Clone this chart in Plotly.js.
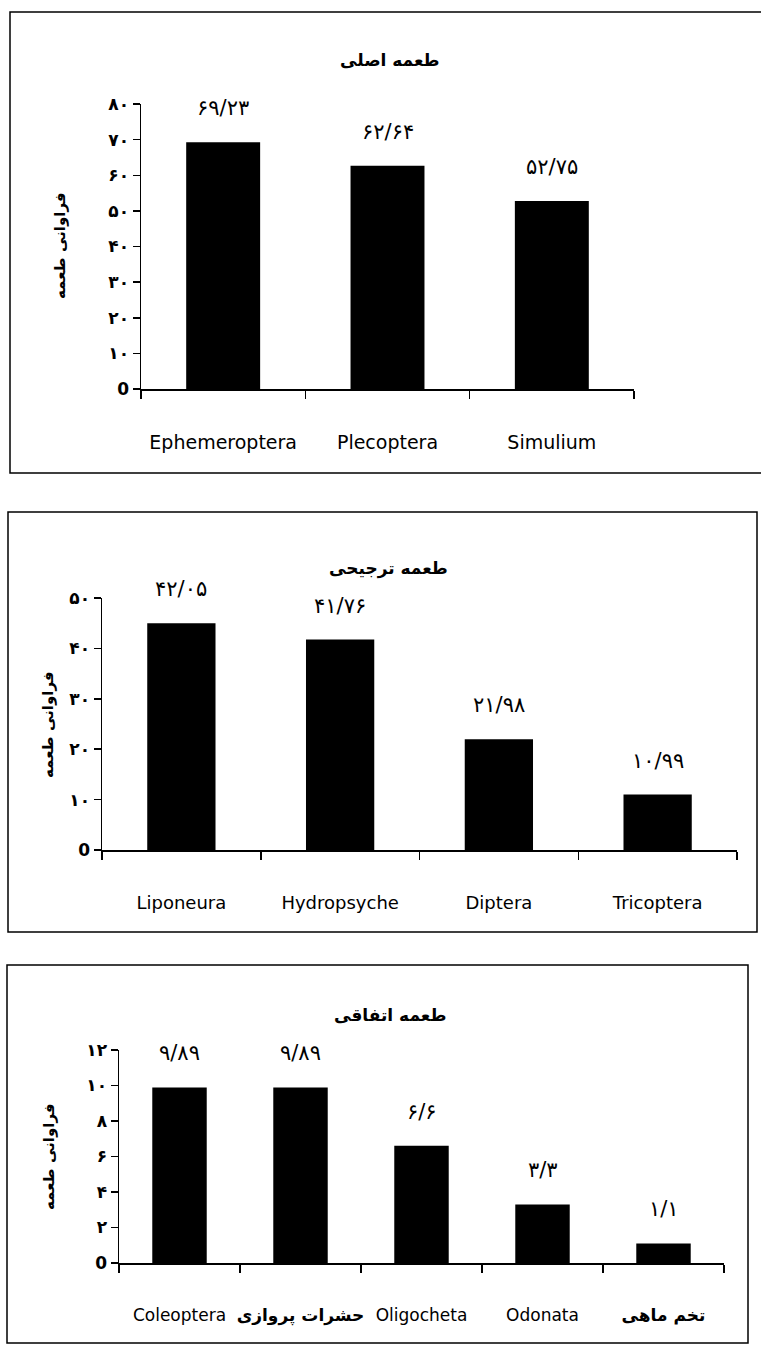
<!DOCTYPE html>
<html>
<head>
<meta charset="utf-8">
<script src="https://cdn.plot.ly/plotly-3.0.1.min.js"></script>
<style>html,body{margin:0;padding:0;background:#fff;}#chart{width:761px;height:1359px;}</style>
</head>
<body>
<div id="chart"></div>
<script>
// ---- Data ----
const chartTitles = ['طعمه اصلی', 'طعمه ترجیحی', 'طعمه اتفاقی'];
const yAxisTitle = 'فراوانی طعمه';

const cats1 = ['Ephemeroptera', 'Plecoptera', 'Simulium'];
const vals1 = [69.23, 62.64, 52.75];
const labels1 = ['۶۹/۲۳', '۶۲/۶۴', '۵۲/۷۵'];
const yTicks1 = [0, 10, 20, 30, 40, 50, 60, 70, 80];
const yTickText1 = ['0', '۱۰', '۲۰', '۳۰', '۴۰', '۵۰', '۶۰', '۷۰', '۸۰'];

const cats2 = ['Liponeura', 'Hydropsyche', 'Diptera', 'Tricoptera'];
const vals2 = [45.0, 41.76, 21.98, 10.99];
const labels2 = ['۴۲/۰۵', '۴۱/۷۶', '۲۱/۹۸', '۱۰/۹۹'];
const yTicks2 = [0, 10, 20, 30, 40, 50];
const yTickText2 = ['0', '۱۰', '۲۰', '۳۰', '۴۰', '۵۰'];

const cats3 = ['Coleoptera', 'حشرات پروازی', 'Oligocheta', 'Odonata', 'تخم ماهی'];
const vals3 = [9.89, 9.89, 6.6, 3.3, 1.1];
const labels3 = ['۹/۸۹', '۹/۸۹', '۶/۶', '۳/۳', '۱/۱'];
const yTicks3 = [0, 2, 4, 6, 8, 10, 12];
const yTickText3 = ['0', '۲', '۴', '۶', '۸', '۱۰', '۱۲'];

// ---- Build ----
const FONT = 'DejaVu Sans, Tahoma, sans-serif';
const W = 761, H = 1359;
const px = v => v / W;
const py = v => 1 - v / H;

const isPersian = s => /[\u0600-\u06FF]/.test(s);
const tickTextFor = cats => cats.map(c => isPersian(c) ? '<b>' + c + '</b>' : c);

const charts = [
  {cats: cats1, vals: vals1, labels: labels1, yt: yTicks1, ytt: yTickText1, yr: [0, 80],
   xd: [px(141), px(634)], yd: [py(389), py(104)], xfs: 19, width: 0.45,
   box: [px(10), py(473), 1.05, py(12)], title: [px(390), py(60)], ytitle: [px(60), py(246)]},
  {cats: cats2, vals: vals2, labels: labels2, yt: yTicks2, ytt: yTickText2, yr: [0, 50],
   xd: [px(102), px(737)], yd: [py(850), py(598)], xfs: 18, width: 0.43,
   box: [px(8), py(932), px(757), py(512)], title: [px(388), py(568)], ytitle: [px(48), py(724)]},
  {cats: cats3, vals: vals3, labels: labels3, yt: yTicks3, ytt: yTickText3, yr: [0, 12],
   xd: [px(119), px(724)], yd: [py(1263), py(1050)], xfs: 17, width: 0.45,
   box: [px(7), py(1343), px(748), py(965)], title: [px(390), py(1015)], ytitle: [px(49), py(1157)]}
];

const data = [];
const layout = {
  width: W, height: H,
  margin: {l: 0, r: 0, t: 0, b: 0},
  paper_bgcolor: '#fff', plot_bgcolor: 'rgba(0,0,0,0)',
  showlegend: false,
  font: {family: FONT, color: '#000'},
  shapes: [], annotations: []
};

charts.forEach((c, i) => {
  const n = i === 0 ? '' : String(i + 1);
  data.push({
    type: 'bar', x: c.cats, y: c.vals,
    xaxis: 'x' + n, yaxis: 'y' + n,
    marker: {color: '#000', line: {width: 0}},
    width: c.width, hoverinfo: 'x+y'
  });
  layout['xaxis' + n] = {
    domain: c.xd, anchor: 'y' + n, type: 'category',
    showline: true, linecolor: '#000', linewidth: 1.5,
    ticks: 'outside', tickson: 'boundaries', ticklen: 8, tickwidth: 1.5, tickcolor: '#000',
    tickvals: c.cats, ticktext: tickTextFor(c.cats), tickangle: 0,
    tickfont: {family: FONT, size: c.xfs, color: '#000'},
    ticklabelstandoff: 36,
    showgrid: false, zeroline: false, fixedrange: true
  };
  layout['yaxis' + n] = {
    domain: c.yd, anchor: 'x' + n, range: c.yr,
    showline: true, linecolor: '#000', linewidth: 1.5,
    ticks: 'outside', ticklen: 7, tickwidth: 1.5, tickcolor: '#000',
    tickvals: c.yt, ticktext: c.ytt,
    tickfont: {family: FONT, size: 17, color: '#000', weight: 'bold'},
    showgrid: false, zeroline: false, fixedrange: true
  };
  layout.shapes.push({
    type: 'rect', xref: 'paper', yref: 'paper',
    x0: c.box[0], y0: c.box[1], x1: c.box[2], y1: c.box[3],
    line: {color: '#000', width: 1.5}, fillcolor: 'rgba(0,0,0,0)'
  });
  layout.annotations.push({
    xref: 'paper', yref: 'paper', x: c.title[0], y: c.title[1],
    text: '<b>' + chartTitles[i] + '</b>', showarrow: false,
    xanchor: 'center', yanchor: 'middle',
    font: {family: FONT, size: 17, color: '#000'}
  });
  layout.annotations.push({
    xref: 'paper', yref: 'paper', x: c.ytitle[0], y: c.ytitle[1],
    text: '<b>' + yAxisTitle + '</b>', showarrow: false, textangle: -90,
    xanchor: 'center', yanchor: 'middle',
    font: {family: FONT, size: 15, color: '#000'}
  });
  c.cats.forEach((cat, j) => {
    layout.annotations.push({
      xref: 'x' + n, yref: 'y' + n, x: cat, y: c.vals[j],
      text: c.labels[j], showarrow: false, yshift: 34,
      xanchor: 'center', yanchor: 'middle',
      font: {family: FONT, size: 21, color: '#000'}
    });
  });
});

Plotly.newPlot('chart', data, layout, {displayModeBar: false, staticPlot: true});
</script>
</body>
</html>
